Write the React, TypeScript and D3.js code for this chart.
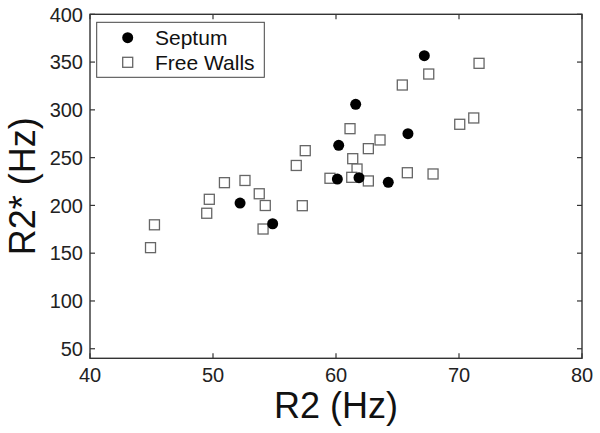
import React from "react";
import * as d3 from "d3";

const septumX = [52.2, 54.85, 60.22, 60.11, 61.87, 61.6, 64.25, 65.85, 67.18];
const septumY = [202.5, 180.8, 262.9, 227.6, 229.0, 305.8, 224.2, 275.1, 356.7];

const freeX = [44.92, 45.24, 49.49, 49.7, 50.93, 52.6, 53.76, 54.25, 54.07, 56.77, 57.5, 57.26, 61.14, 61.36, 61.71, 59.51, 61.28, 62.63, 62.63, 63.58, 65.8, 67.89, 65.39, 67.54, 71.63, 70.06, 71.2];
const freeY = [155.8, 179.7, 191.8, 206.4, 223.8, 226.1, 212.2, 199.9, 175.3, 241.8, 257.3, 199.7, 280.3, 248.9, 238.1, 228.4, 229.4, 225.6, 259.4, 268.5, 234.2, 232.9, 326.0, 337.5, 348.7, 284.9, 291.5];

const xTicks = [40, 50, 60, 70, 80];
const yTicks = [50, 100, 150, 200, 250, 300, 350, 400];
const legendLabels = ["Septum", "Free Walls"];
const xTitle = "R2 (Hz)";
const yTitle = "R2* (Hz)";

const W = 600;
const H = 433;
const left = 90, right = 582, top = 14.3, bottom = 358.3;
const FONT = "'Liberation Sans', Arial, sans-serif";

export default function App() {
  const x = d3.scaleLinear().domain([40, 80]).range([left, right]);
  const y = d3.scaleLinear().domain([40, 400]).range([bottom, top]);
  const tl = 5;
  const axisColor = "#333";
  const sq = 10;
  return (
    <svg width={W} height={H} style={{ position: "absolute", left: 0, top: 0, background: "#fff" }} fontFamily={FONT}>
      <rect x={0} y={0} width={W} height={H} fill="#fff" />
      {/* ticks */}
      {xTicks.map((t) => (
        <g key={"xt" + t}>
          <line x1={x(t)} x2={x(t)} y1={bottom} y2={bottom - tl} stroke={axisColor} strokeWidth={1.2} />
          <line x1={x(t)} x2={x(t)} y1={top} y2={top + tl} stroke={axisColor} strokeWidth={1.2} />
          <text x={x(t)} y={382} fontSize={20} textAnchor="middle" fill="#222">{t}</text>
        </g>
      ))}
      {yTicks.map((t) => (
        <g key={"yt" + t}>
          <line x1={left} x2={left + tl} y1={y(t)} y2={y(t)} stroke={axisColor} strokeWidth={1.2} />
          <line x1={right} x2={right - tl} y1={y(t)} y2={y(t)} stroke={axisColor} strokeWidth={1.2} />
          <text x={83} y={y(t)} dy="0.36em" fontSize={20} textAnchor="end" fill="#222">{t}</text>
        </g>
      ))}
      <rect x={left} y={top} width={right - left} height={bottom - top} fill="none" stroke={axisColor} strokeWidth={1.4} />
      {/* free walls */}
      {freeX.map((v, i) => (
        <rect key={"f" + i} x={x(v) - sq / 2} y={y(freeY[i]) - sq / 2} width={sq} height={sq} fill="#fff" stroke="#666" strokeWidth={1.3} />
      ))}
      {/* septum */}
      {septumX.map((v, i) => (
        <circle key={"s" + i} cx={x(v)} cy={y(septumY[i])} r={5.5} fill="#000" />
      ))}
      {/* legend */}
      <rect x={96.7} y={22.3} width={167.6} height={55} fill="#fff" stroke="#444" strokeWidth={1} />
      <circle cx={127.7} cy={37.7} r={5.5} fill="#000" />
      <text x={155} y={45} fontSize={21} fill="#111">{legendLabels[0]}</text>
      <rect x={127.7 - sq / 2} y={62.3 - sq / 2} width={sq} height={sq} fill="#fff" stroke="#666" strokeWidth={1.3} />
      <text x={155} y={70} fontSize={21} fill="#111">{legendLabels[1]}</text>
      {/* titles */}
      <text x={(left + right) / 2} y={418} fontSize={36} textAnchor="middle" fill="#111">{xTitle}</text>
      <text transform={`translate(35,${(top + bottom) / 2}) rotate(-90)`} fontSize={36} textAnchor="middle" fill="#111">{yTitle}</text>
    </svg>
  );
}
